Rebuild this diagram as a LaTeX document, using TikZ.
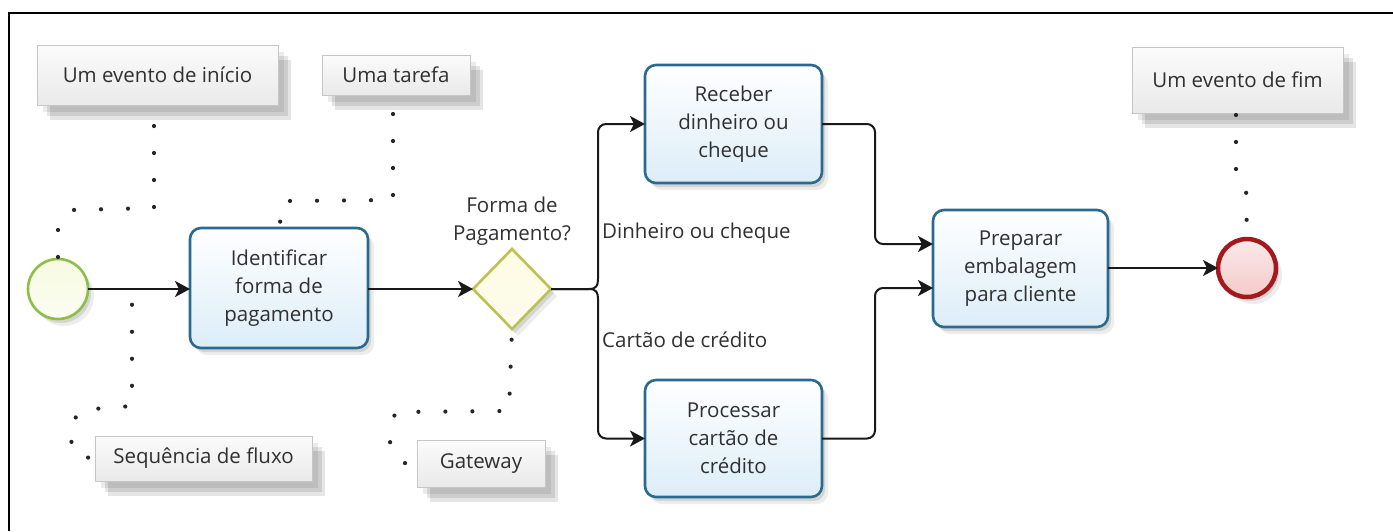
\documentclass[tikz,border=0pt]{standalone}
\usepackage{fontspec}
\setmainfont{Open Sans}
\usetikzlibrary{arrows.meta,shapes.geometric,shadows}
\definecolor{txt}{HTML}{303030}
\definecolor{taskblue}{HTML}{2A6A90}
\definecolor{taskfill}{HTML}{DCEDF8}
\definecolor{startgreen}{HTML}{8DBE45}
\definecolor{startfill}{HTML}{F1F8CF}
\definecolor{endred}{HTML}{A3191C}
\definecolor{endfill}{HTML}{F5C9C9}
\definecolor{gwline}{HTML}{BDC152}
\definecolor{gwfill}{HTML}{FFFDE2}
\begin{document}
\begin{tikzpicture}[x=1pt,y=-1pt,
  font=\fontsize{20.5}{28}\selectfont, text=txt,
  softshadow/.style={
    drop shadow={shadow xshift=3pt,shadow yshift=-4pt,opacity=0.10,fill=black},
    drop shadow={shadow xshift=6pt,shadow yshift=-7pt,opacity=0.07,fill=black}},
  task/.style={rectangle, rounded corners=11pt, draw=taskblue, line width=2.6pt,
    top color=white, bottom color=taskfill, inner sep=0pt, outer sep=0pt, align=center, softshadow},
  callout/.style={rectangle, draw=gray!45, line width=1pt, top color=gray!3, bottom color=gray!17,
    inner sep=0pt, outer sep=0pt, align=center,
    drop shadow={shadow xshift=6pt,shadow yshift=-7pt,opacity=0.08,fill=black},
    drop shadow={shadow xshift=10pt,shadow yshift=-11pt,opacity=0.10,fill=black},
    drop shadow={shadow xshift=13pt,shadow yshift=-15pt,opacity=0.10,fill=black}},
  flow/.style={line width=2pt, draw=black!90, -{Stealth[length=15pt,width=16pt,inset=4pt]}},
  assoc/.style={line width=4.2pt, line cap=round, draw=black!85, dash pattern=on 0pt off 27pt},
  lbl/.style={inner sep=0pt, align=left, anchor=west}
]
\useasboundingbox (0,0) rectangle (1393,531);
\fill[white] (0,0) rectangle (1393,531);
% frame
\draw[line width=2.6pt, black] (9,531) -- (9,13) -- (1393,13);

% events
\node[circle, draw=startgreen, line width=2.6pt, top color=startfill!60, bottom color=startfill!100!startgreen!30,
  minimum size=60pt, inner sep=0pt, outer sep=0pt, softshadow] (start) at (58,289) {};
\node[circle, draw=endred, line width=4.5pt, top color=endfill!40, bottom color=endfill,
  minimum size=58pt, inner sep=0pt, outer sep=0pt, softshadow] (end) at (1247,268) {};

% tasks
\node[task, minimum width=178pt, minimum height=120pt] (ident) at (279,288) {Identificar\\forma de\\pagamento};
\node[task, minimum width=177pt, minimum height=118pt] (rec) at (733.5,124) {Receber\\dinheiro ou\\cheque};
\node[task, minimum width=177pt, minimum height=117pt] (proc) at (733.5,438.5) {Processar\\cartão de\\crédito};
\node[task, minimum width=175pt, minimum height=117pt] (prep) at (1020.5,268.5) {Preparar\\embalagem\\para cliente};

% gateway
\node[diamond, draw=gwline, line width=2.6pt, top color=gwfill, bottom color=gwfill!80!gwline!30,
  minimum width=78pt, minimum height=80pt, inner sep=0pt, outer sep=0pt, softshadow] (gw) at (512,289) {};
\node[inner sep=0pt, align=center] (gwlabel) at (512,221) {Forma de\\Pagamento?};

% callouts
\node[callout, minimum width=241pt, minimum height=60pt] (inicio) at (157.5,75) {Um evento de início};
\node[callout, minimum width=148pt, minimum height=40pt] (tarefa) at (396,75) {Uma tarefa};
\node[callout, minimum width=217pt, minimum height=45pt] (seq) at (203.5,458.5) {Sequência de fluxo};
\node[callout, minimum width=128pt, minimum height=47pt] (gwc) at (481,463.5) {Gateway};
\node[callout, minimum width=211pt, minimum height=66pt] (fim) at (1237.5,80) {Um evento de fim};

% condition labels
\node[lbl] (dlabel) at (602,233) {Dinheiro ou cheque};
\node[lbl] (clabel) at (602,340) {Cartão de crédito};

% sequence flows
\draw[flow] (start.east) -- (ident.west |- start.east);
\coordinate (seqpt) at (132,289);
\draw[flow] (ident.east |- gw.west) -- (gw.west);
\draw[flow] (gw.east) -- (589,289) .. controls (596,289) and (598,286) .. (598,279)
  [rounded corners=8pt] |- (rec.west);
\draw[flow] (gw.east) -- (589,289) .. controls (596,289) and (598,292) .. (598,299)
  [rounded corners=8pt] |- (proc.west);
\draw[flow, rounded corners=8pt] (rec.east) -- (875,124) -- (875,244) -- (prep.west |- 0,244);
\draw[flow, rounded corners=8pt] (proc.east) -- (875,438.5) -- (875,288) -- (prep.west |- 0,288);
\draw[flow] (prep.east |- end.west) -- (end.west);

% associations
\draw[assoc, dash phase=6pt] (154,105) -- (154,208) -- (71,210) -- (58,229) -- (start.north);
\draw[assoc, dash phase=8pt] (393,95) -- (393,200) -- (284,201) -- (ident.north);
\draw[assoc, dash phase=20pt] (seq.west) -- (76,456) -- (68,431) -- (80,410) -- (132,406) -- (seqpt);
\draw[assoc, dash phase=15pt] (gwc.west) -- (402,463) -- (390,442) -- (395,412) -- (509,411) -- (gw.south);
\draw[assoc, dash phase=25pt] (1236,113) -- (1236,172) -- (1246,186) -- (end.north);
\end{tikzpicture}
\end{document}
